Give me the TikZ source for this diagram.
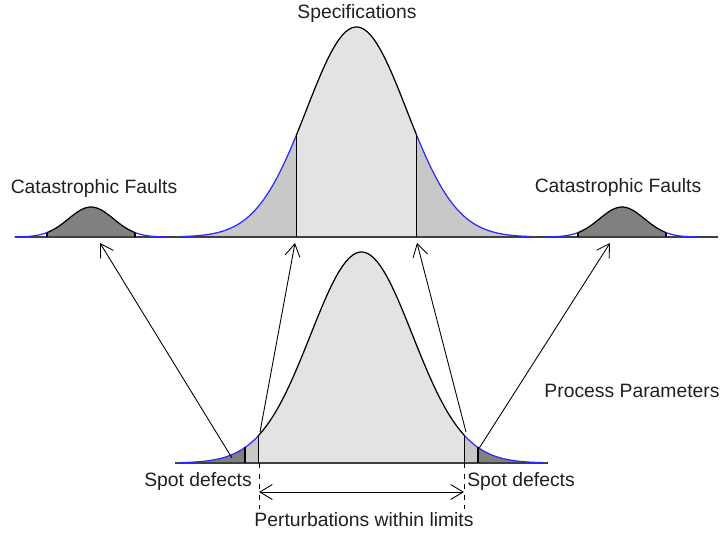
\documentclass[tikz,border=0pt]{standalone}
\usepackage{fontspec}
\setmainfont{Liberation Sans}
\usetikzlibrary{arrows.meta}
\definecolor{FillLight}{HTML}{E3E3E3}
\definecolor{FillMid}{HTML}{C8C8C8}
\definecolor{FillDark}{HTML}{808080}
\definecolor{TailBlue}{HTML}{2A2AFF}
\definecolor{Ink}{HTML}{202020}
\begin{document}
\begin{tikzpicture}[x=0.02cm,y=-0.02cm,lbl/.style={font=\fontsize{11}{13}\selectfont, text=Ink, inner sep=0pt},axis/.style={draw=black!75, line width=0.7pt},bell/.style={draw=black, line width=0.7pt},tail/.style={draw=TailBlue, line width=0.7pt},edge/.style={draw=black, line width=0.6pt},arr/.style={draw=black, line width=0.5pt, -{Straight Barb[length=2.5mm,width=3mm]}},span/.style={draw=black, line width=0.5pt, {Straight Barb[length=2.5mm,width=3mm]}-{Straight Barb[length=2.5mm,width=3mm]}},guide/.style={draw=black, line width=0.5pt, dashed}]
\useasboundingbox (0,0) rectangle (722,535);
% specifications
\fill[FillMid] (181.5,237) -- plot[domain=-3.5:3.5,samples=90] ({356.5+50*\x},{237-210*exp(-0.5*\x*\x)}) -- (531.5,237) -- cycle;
\fill[FillLight] (296.5,237) -- plot[domain=-1.2:1.2,samples=40] ({356.5+50*\x},{237-210*exp(-0.5*\x*\x)}) -- (416.5,237) -- cycle;
% catastrophic faults
\foreach \c in {91,622}{
  \fill[FillDark] ({\c-44},237) -- plot[domain=-1.95:1.95,samples=30] ({\c+22.5*\x},{237-30*exp(-0.5*\x*\x)}) -- ({\c+44},237) -- cycle;
}
% process parameters
\fill[FillDark] (179,463) -- plot[domain=-3.58:3.58,samples=90] ({361.5+51*\x},{463-211*exp(-0.5*\x*\x)}) -- (544,463) -- cycle;
\fill[FillMid] (245,463) -- plot[domain=-2.28:2.28,samples=60] ({361.5+51*\x},{463-211*exp(-0.5*\x*\x)}) -- (478,463) -- cycle;
\fill[FillLight] (258.5,463) -- plot[domain=-2.02:2.02,samples=60] ({361.5+51*\x},{463-211*exp(-0.5*\x*\x)}) -- (464.5,463) -- cycle;
\draw[axis] (15,237) -- (718,237);
\draw[axis] (175,463) -- (548,463);
\draw[tail] plot[domain=-3.5:-1.2,samples=40] ({356.5+50*\x},{237-210*exp(-0.5*\x*\x)});
\draw[bell] plot[domain=-1.2:1.2,samples=40] ({356.5+50*\x},{237-210*exp(-0.5*\x*\x)});
\draw[tail] plot[domain=1.2:3.5,samples=40] ({356.5+50*\x},{237-210*exp(-0.5*\x*\x)});
\draw[edge] (296.5,237) -- (296.5,134.8);
\draw[edge] (416.5,237) -- (416.5,134.8);
\foreach \c in {91,622}{
  \draw[tail] plot[domain=-3.4:-1.95,samples=20] ({\c+22.5*\x},{237-30*exp(-0.5*\x*\x)});
  \draw[bell] plot[domain=-1.95:1.95,samples=30] ({\c+22.5*\x},{237-30*exp(-0.5*\x*\x)});
  \draw[tail] plot[domain=1.95:3.4,samples=20] ({\c+22.5*\x},{237-30*exp(-0.5*\x*\x)});
  \draw[edge] ({\c-44},237) -- ({\c-44},232.5);
  \draw[edge] ({\c+44},237) -- ({\c+44},232.5);
}
\draw[tail] plot[domain=-3.58:-2.02,samples=40] ({361.5+51*\x},{463-211*exp(-0.5*\x*\x)});
\draw[bell] plot[domain=-2.02:2.02,samples=60] ({361.5+51*\x},{463-211*exp(-0.5*\x*\x)});
\draw[tail] plot[domain=2.02:3.58,samples=40] ({361.5+51*\x},{463-211*exp(-0.5*\x*\x)});
\draw[edge] (245,463) -- (245,447.3);
\draw[edge] (258.5,463) -- (258.5,435.6);
\draw[edge] (464.5,463) -- (464.5,435.6);
\draw[edge] (478,463) -- (478,447.3);
% labels
\node[lbl] (spec) at (357,13) {Specifications};
\node[lbl] (catl) at (94,188) {Catastrophic Faults};
\node[lbl] (catr) at (618,187) {Catastrophic Faults};
\node[lbl] (proc) at (632,391) {Process Parameters};
\node[lbl] (spotl) at (198,481) {Spot defects};
\node[lbl] (spotr) at (521,481) {Spot defects};
\node[lbl] (pert) at (364,520) {Perturbations within limits};
% mapping arrows
\coordinate (fromA) at (232,458);
\coordinate (toA) at (100,243);
\coordinate (fromB) at (260,432);
\coordinate (toB) at (295,243);
\coordinate (fromC) at (466,432);
\coordinate (toC) at (417,243);
\coordinate (fromD) at (478,450);
\coordinate (toD) at (610,243);
\draw[arr] (fromA) -- (toA);
\draw[arr] (fromB) -- (toB);
\draw[arr] (fromC) -- (toC);
\draw[arr] (fromD) -- (toD);
% limits
\coordinate (limL) at (259,463);
\coordinate (limLb) at (259,509);
\coordinate (limR) at (464,463);
\coordinate (limRb) at (464,509);
\draw[guide] (limL) -- (limLb);
\draw[guide] (limR) -- (limRb);
\draw[span] (259,492) coordinate (spanL) -- (464,492) coordinate (spanR);
\end{tikzpicture}
\end{document}
